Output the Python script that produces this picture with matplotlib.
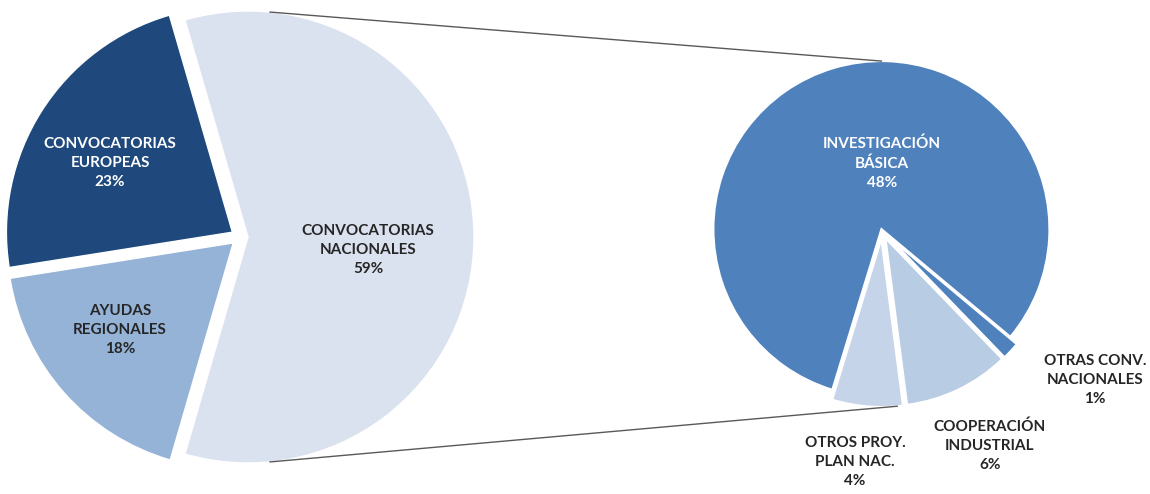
import numpy as np
import matplotlib.pyplot as plt

plt.rcParams['font.family'] = ['Lato', 'DejaVu Sans']

# main pie: sources of funding
main_labels = ['CONVOCATORIAS\nNACIONALES', 'CONVOCATORIAS\nEUROPEAS', 'AYUDAS\nREGIONALES']
main_values = [59, 23, 18]
main_colors = ['#DAE2EF', '#1F497D', '#95B3D7']
main_text_colors = ['#262626', 'white', '#262626']

# secondary pie: breakdown of "convocatorias nacionales"
sub_labels = ['OTROS PROY.\nPLAN NAC.', 'COOPERACIÓN\nINDUSTRIAL', 'OTRAS CONV.\nNACIONALES', 'INVESTIGACIÓN\nBÁSICA']
sub_values = [4, 6, 1, 48]
sub_colors = ['#C6D4E9', '#B8CCE4', '#4F81BD', '#4F81BD']
sub_text_colors = ['#262626', '#262626', '#262626', 'white']

H = 494
# label anchor points (pixel coords, y measured from top)
main_label_pos = [(368, 250), (110, 163), (120, 330)]
sub_label_pos = [(855, 462), (990, 446), (1095, 380), (882, 163)]

fig = plt.figure(figsize=(11.5, 4.94), dpi=100)
ax = fig.add_axes([0, 0, 1, 1])

w1, _ = ax.pie(main_values, colors=main_colors, startangle=-106.2, counterclock=True,
               center=(240, H - 237), radius=226, explode=[8, 9, 9],
               wedgeprops=dict(edgecolor='white', linewidth=1))
w2, _ = ax.pie(sub_values, colors=sub_colors, startangle=-107, counterclock=True,
               center=(882, H - 231), radius=168, explode=[8, 8, 8, 2],
               wedgeprops=dict(edgecolor='white', linewidth=1.5))

ax.set_xlim(0, 1150)
ax.set_ylim(0, H)
ax.set_aspect('equal')
ax.axis('off')

# connector lines between the two pies
nac = w1[0]
cx, cy = nac.center
a = np.deg2rad(84.4)
left_top = (cx + nac.r * np.cos(a), cy + nac.r * np.sin(a))
left_bot = (cx + nac.r * np.cos(-a), cy + nac.r * np.sin(-a))
inv = w2[3]
right_top = (inv.center[0], inv.center[1] + inv.r)
otr = w2[0]
b = np.deg2rad(otr.theta2 - 2)
right_bot = (otr.center[0] + otr.r * np.cos(b), otr.center[1] + otr.r * np.sin(b))
ax.plot([left_top[0], right_top[0]], [left_top[1], right_top[1]], color='#595959', lw=1)
ax.plot([left_bot[0], right_bot[0]], [left_bot[1], right_bot[1]], color='#595959', lw=1)

for lab, val, pos, col in zip(main_labels, main_values, main_label_pos, main_text_colors):
    ax.text(pos[0], H - pos[1], f'{lab}\n{val}%', ha='center', va='center', color=col,
            fontsize=11, fontweight='bold', linespacing=1.45)
for lab, val, pos, col in zip(sub_labels, sub_values, sub_label_pos, sub_text_colors):
    ax.text(pos[0], H - pos[1], f'{lab}\n{val}%', ha='center', va='center', color=col,
            fontsize=11, fontweight='bold', linespacing=1.45)

fig.savefig('out.png', dpi=100)
